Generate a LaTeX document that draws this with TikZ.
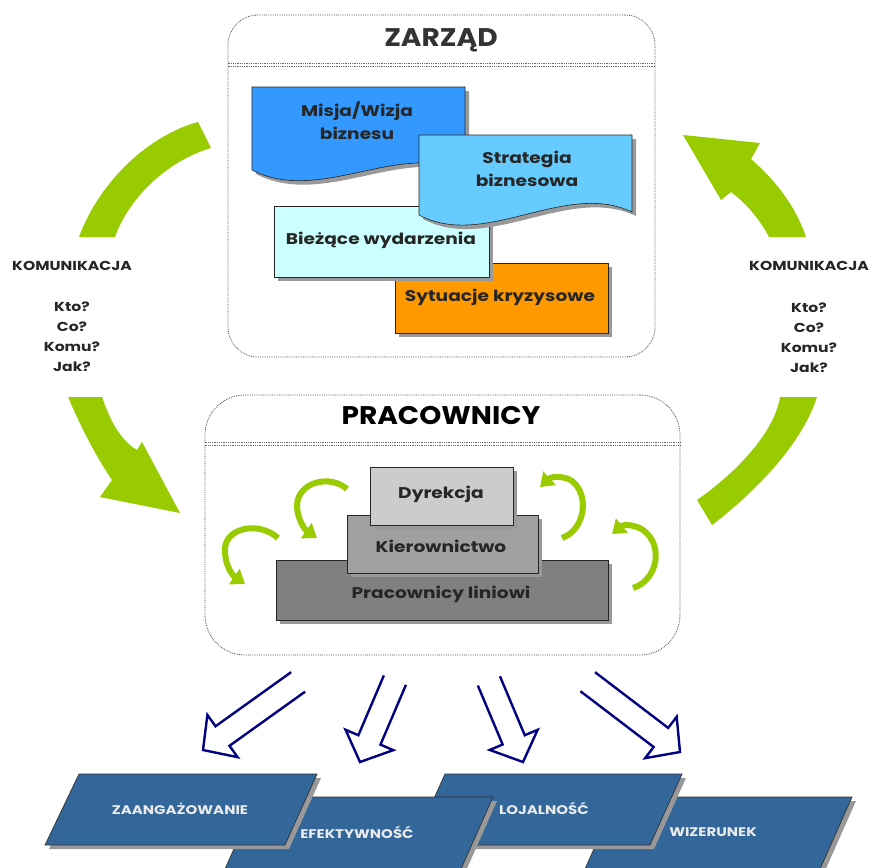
\documentclass[tikz,border=0pt]{standalone}
\usepackage{fontspec}
\setmainfont{Poppins}
\newfontfamily\widefont[FakeStretch=1.2]{Poppins}
\newfontfamily\titlefam[FakeStretch=1.1]{Poppins}
\usetikzlibrary{shadows,arrows.meta,calc}
\definecolor{misjac}{HTML}{3399FF}
\definecolor{stratc}{HTML}{66CCFF}
\definecolor{biezc}{HTML}{CCFFFF}
\definecolor{sytc}{HTML}{FF9900}
\definecolor{dyrc}{HTML}{CCCCCC}
\definecolor{kierc}{HTML}{A0A0A0}
\definecolor{pracc}{HTML}{808080}
\definecolor{greenc}{HTML}{99CC00}
\definecolor{parac}{HTML}{336699}
\definecolor{navyc}{HTML}{000080}
\definecolor{titlec}{HTML}{333333}
\newcommand{\hollowarrow}[3]{%
  \draw[navyline, shift={(#1)}, rotate=#2] (-#3,12) -- (-24,12) -- (-24,26) -- (0,0) -- (-24,-26) -- (-24,-12) -- (-#3,-12);}
\begin{document}
\begin{tikzpicture}[x=1pt,y=-1pt,
  shad/.style={drop shadow={shadow xshift=4pt,shadow yshift=-4pt,fill=black!40,opacity=1}},
  frame/.style={draw=black!70, densely dotted, line width=0.8pt, fill=white, rounded corners=#1},
  sepline/.style={draw=black!60, densely dotted, line width=0.8pt},
  titletext/.style={font=\titlefam\fontsize{25.5}{30}\selectfont\bfseries, text=titlec},
  intext/.style={font=\widefont\fontsize{15.5}{23}\selectfont\bfseries, text=black!85, align=center},
  shapebox/.style={draw=black!85, line width=0.6pt, shad},
  rectbox/.style={shapebox, rectangle, inner sep=0pt},
  pyrtext/.style={font=\widefont\fontsize{15.5}{18}\selectfont\bfseries, text=black!85},
  sidetext/.style={font=\widefont\fontsize{13}{20}\selectfont\bfseries, text=black!85, align=center},
  greenpiece/.style={fill=greenc},
  smallarrow/.style={draw=greenc, line width=6pt, -{Triangle[length=13pt,width=18pt]}},
  navyline/.style={draw=navyc, line width=2.4pt, line join=miter},
  para/.style={fill=parac, draw=black!80, line width=0.7pt, shad},
  paratext/.style={font=\widefont\fontsize{12.5}{14}\selectfont\bfseries, text=white!92!black}
]
\useasboundingbox (0,0) rectangle (872,867);

% ---------- big green communication arrows ----------
% left: upper band
\fill[greenpiece] (79,237) .. controls (100,180) and (150,135) .. (198,122)
  -- (211,148) .. controls (170,160) and (130,195) .. (115,237) -- cycle;
% left: lower band with head
\fill[greenpiece] (68,397) .. controls (80,425) and (95,455) .. (112,480)
  -- (100,497) -- (180,513) -- (142,442) -- (137,450)
  .. controls (120,440) and (110,420) .. (102,397) -- cycle;
% right: head with upper band
\fill[greenpiece] (683,135) -- (760,143) -- (751,159)
  .. controls (775,180) and (795,205) .. (806,237) -- (769,237)
  .. controls (760,220) and (748,205) .. (731,192) -- (721,200) -- cycle;
% right: lower band
\fill[greenpiece] (780,397) .. controls (775,430) and (740,470) .. (697,500)
  -- (712,525) .. controls (745,500) and (800,450) .. (817,397) -- cycle;

\node[sidetext] (komL) at (72,266) {KOMUNIKACJA};
\node[sidetext] (qL) at (72,337) {Kto?\\Co?\\Komu?\\Jak?};
\node[sidetext] (komR) at (809,266) {KOMUNIKACJA};
\node[sidetext] (qR) at (809,338) {Kto?\\Co?\\Komu?\\Jak?};

% ---------- ZARZAD ----------
\node[frame=30pt, minimum width=427pt, minimum height=342pt] (zarzad) at (441.5,186) {};
\draw[sepline] (zarzad.west |- 0,63) -- (zarzad.east |- 0,63);
\draw[sepline] (zarzad.west |- 0,66) -- (zarzad.east |- 0,66);
\node[titletext] (zt) at (441,40) {ZARZĄD};

\filldraw[shapebox, fill=misjac] (252,87) -- (465,87) -- (465,172)
  .. controls (400,140) and (320,205) .. (252,170) -- cycle;
\node[intext] (misja) at (357,121) {Misja/Wizja\\biznesu};

\node[rectbox, fill=sytc, minimum width=213pt, minimum height=70pt] (syt) at (501.5,298) {};
\node[intext] (sytt) at (500,297) {Sytuacje kryzysowe};

\node[rectbox, fill=biezc, minimum width=215pt, minimum height=71pt] (biez) at (381.5,241.5) {};
\node[intext] (biezt) at (381,240) {Bieżące wydarzenia};

\filldraw[shapebox, fill=stratc] (419,135) -- (632,135) -- (632,212)
  .. controls (565,180) and (485,250) .. (419,215) -- cycle;
\node[intext] (strat) at (527,169) {Strategia\\biznesowa};

% ---------- PRACOWNICY ----------
\node[frame=40pt, minimum width=475pt, minimum height=260pt] (prac) at (442.5,525) {};
\draw[sepline] (prac.west |- 0,442) -- (prac.east |- 0,442);
\draw[sepline] (prac.west |- 0,445) -- (prac.east |- 0,445);
\node[titletext, text=black] (pt) at (441,416) {PRACOWNICY};

\node[rectbox, fill=pracc, minimum width=332pt, minimum height=60pt] (lin) at (442,590) {};
\node[pyrtext] (lint) at (441,594) {Pracownicy liniowi};
\node[rectbox, fill=kierc, minimum width=191pt, minimum height=58pt] (kier) at (442.5,544) {};
\node[pyrtext] (kiert) at (441,546) {Kierownictwo};
\node[rectbox, fill=dyrc, minimum width=143pt, minimum height=58pt] (dyr) at (441.5,496) {};
\node[pyrtext] (dyrt) at (441,494) {Dyrekcja};

% small green circular arrows
\draw[smallarrow] (278,538) .. controls (258,520) and (222,528) .. (225,553)
  .. controls (226,566) and (232,575) .. (245,584);
\draw[smallarrow] (347,489) .. controls (330,474) and (298,482) .. (297,505)
  .. controls (297,518) and (304,529) .. (317,538);
\draw[smallarrow] (562,538) .. controls (585,530) and (590,495) .. (572,481)
  .. controls (565,476) and (552,476) .. (540,487);
\draw[smallarrow] (633,588) .. controls (658,580) and (664,545) .. (643,530)
  .. controls (636,525) and (624,524) .. (612,534);

% ---------- hollow blue arrows ----------
\hollowarrow{203,750}{215.6}{117}
\hollowarrow{360,762}{246.9}{89}
\hollowarrow{523,762}{292.8}{88}
\hollowarrow{680,752}{322.7}{116}

% ---------- result parallelograms ----------
\filldraw[para] (617,797) -- (852,797) -- (820,869) -- (585,869) -- cycle;
\node[paratext] (wiz) at (713,832) {WIZERUNEK};
\filldraw[para] (445,774) -- (682,774) -- (650,845) -- (413,845) -- cycle;
\node[paratext] (loj) at (544,808) {LOJALNOŚĆ};
\filldraw[para] (257,797) -- (493,797) -- (461,869) -- (225,869) -- cycle;
\node[paratext] (efe) at (357,832) {EFEKTYWNOŚĆ};
\filldraw[para] (79,774) -- (317,774) -- (285,845) -- (45,845) -- cycle;
\node[paratext] (zaa) at (180,809) {ZAANGAŻOWANIE};
\end{tikzpicture}
\end{document}
